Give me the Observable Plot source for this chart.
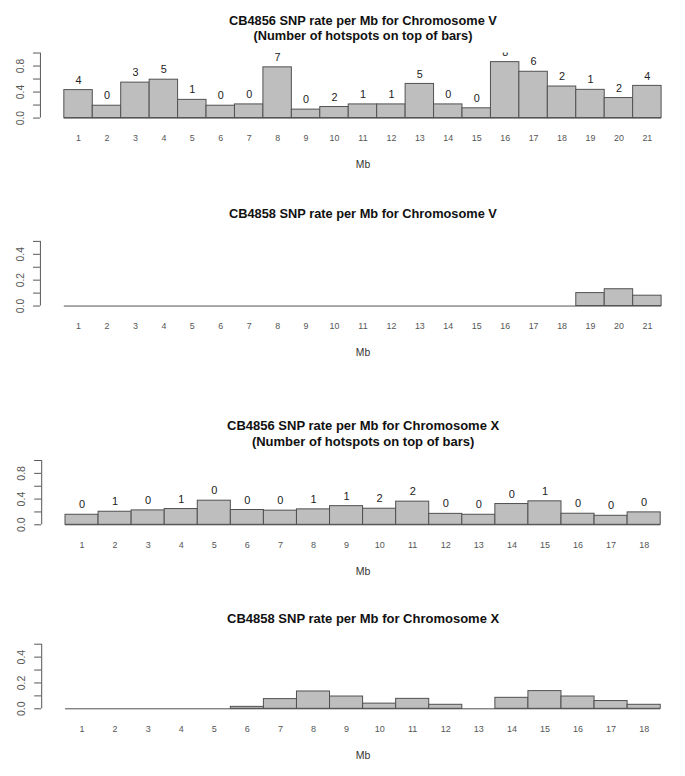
<!DOCTYPE html>
<html><head><meta charset="utf-8">
<script src="https://cdn.jsdelivr.net/npm/d3@7"></script>
<script src="https://cdn.jsdelivr.net/npm/@observablehq/plot@0.6"></script>
<style>
body{margin:0;background:#fff;}
#wrap{position:relative;width:685px;height:776px;overflow:hidden;background:#fff;}
#wrap svg{position:absolute;left:0;overflow:visible;}
</style></head><body><div id="wrap"></div>
<script>
// ---- data ----
const mbV = [1,2,3,4,5,6,7,8,9,10,11,12,13,14,15,16,17,18,19,20,21];
const cb4856V = [0.43,0.19,0.545,0.59,0.28,0.19,0.21,0.78,0.13,0.17,0.21,0.21,0.525,0.21,0.15,0.86,0.712,0.485,0.434,0.308,0.495];
const hotspotsV = ["4","0","3","5","1","0","0","7","0","2","1","1","5","0","0","8","6","2","1","2","4"];
const cb4858V = [0,0,0,0,0,0,0,0,0,0,0,0,0,0,0,0,0,0,0.10,0.13,0.08];

const mbX = [1,2,3,4,5,6,7,8,9,10,11,12,13,14,15,16,17,18];
const cb4856X = [0.156,0.203,0.224,0.245,0.375,0.23,0.22,0.24,0.29,0.25,0.36,0.17,0.156,0.323,0.365,0.172,0.14,0.193];
const hotspotsX = ["0","1","0","1","0","0","0","1","1","2","2","0","0","0","1","0","0","0"];
const cb4858X = [0,0,0,0,0,0.015,0.075,0.134,0.095,0.04,0.077,0.031,0,0.085,0.137,0.095,0.06,0.031];

const ticksRate1 = [0,0.2,0.4,0.6,0.8,1.0];
const labelsRate1 = [0,0.4,0.8];
const ticksRate05 = [0,0.1,0.2,0.3,0.4,0.5];
const labelsRate05 = [0,0.2,0.4];

const FONT = "'Liberation Sans', Arial, Helvetica, sans-serif";
const wrap = document.getElementById("wrap");

function panel(o) {
  const n = o.mb.length;
  const rows = o.mb.map((m, i) => ({mb: m, v: o.values[i], h: o.labels ? o.labels[i] : ""}));
  const ext = 0.04 * n;
  const xDomain = [0.5 - ext, n + 0.5 + ext];
  const marks = [
    Plot.rectY(rows, {x1: d => d.mb - 0.5, x2: d => d.mb + 0.5, y: "v", fill: "#bebebe", stroke: "#505050", strokeWidth: 1}),
    Plot.ruleY([0], {x1: o.mb[0] - 0.5, x2: o.mb[n - 1] + 0.5, stroke: "#505050", strokeWidth: 1}),
    Plot.ruleX([xDomain[0]], {y1: 0, y2: o.yMax, stroke: "#555"}),
    Plot.axisY({ticks: o.yTicks, tickSize: 7, tickFormat: () => "", label: null, stroke: "#555"}),
    Plot.text(o.yLabels, {y: d => d, frameAnchor: "left", dx: -20, rotate: -90, text: d => d.toFixed(1), fontSize: 10.5, fill: "#555", textAnchor: "middle", lineAnchor: "middle"}),
    Plot.text(o.mb, {x: d => d, frameAnchor: "bottom", dy: 20, text: d => String(d), fontSize: 9, fill: "#555", lineAnchor: "middle"}),
    Plot.text(["Mb"], {frameAnchor: "bottom", dy: 47, text: d => d, fontSize: 10.5, fill: "#333", lineAnchor: "middle"})
  ];
  if (o.labels) {
    marks.push(Plot.text(rows, {x: "mb", y: "v", text: "h", dy: -10, fontSize: 11, fill: "#222", lineAnchor: "middle", clip: true}));
  }
  o.titles.forEach((t, i) => {
    marks.push(Plot.text([t], {frameAnchor: "top", dy: o.titleDy[i], text: d => d, fontSize: 13, fontWeight: "bold", fill: "#111", lineAnchor: "middle"}));
  });
  const svg = Plot.plot({
    width: o.width,
    height: o.height,
    marginLeft: o.mLeft,
    marginRight: 0,
    marginTop: o.mTop,
    marginBottom: o.mBottom,
    style: {fontFamily: FONT, background: "transparent", overflow: "visible"},
    x: {type: "linear", domain: xDomain, axis: null},
    y: {type: "linear", domain: [0, o.yMax], label: null},
    marks
  });
  svg.style.top = o.top + "px";
  wrap.appendChild(svg);
}

panel({top: 0, height: 185, width: 695, mLeft: 40.5, mTop: 53.3, mBottom: 65.7,
  mb: mbV, values: cb4856V, labels: hotspotsV, yMax: 1, yTicks: ticksRate1, yLabels: labelsRate1,
  titles: ["CB4856 SNP rate per Mb for Chromosome V", "(Number of hotspots on top of bars)"], titleDy: [-33, -17.5]});

panel({top: 185, height: 215, width: 695, mLeft: 40.5, mTop: 56.7, mBottom: 92.7,
  mb: mbV, values: cb4858V, labels: null, yMax: 0.5, yTicks: ticksRate05, yLabels: labelsRate05,
  titles: ["CB4858 SNP rate per Mb for Chromosome V"], titleDy: [-28]});

panel({top: 400, height: 200, width: 684, mLeft: 41.2, mTop: 60, mBottom: 75.7,
  mb: mbX, values: cb4856X, labels: hotspotsX, yMax: 1, yTicks: ticksRate1, yLabels: labelsRate1,
  titles: ["CB4856 SNP rate per Mb for Chromosome X", "(Number of hotspots on top of bars)"], titleDy: [-35, -19]});

panel({top: 600, height: 176, width: 684, mLeft: 41.2, mTop: 43.7, mBottom: 67.7,
  mb: mbX, values: cb4858X, labels: null, yMax: 0.5, yTicks: ticksRate05, yLabels: labelsRate05,
  titles: ["CB4858 SNP rate per Mb for Chromosome X"], titleDy: [-25.5]});
</script>
</body></html>
